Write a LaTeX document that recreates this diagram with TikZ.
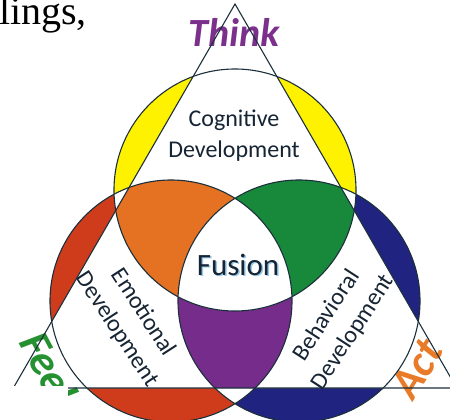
\documentclass[tikz,border=0pt]{standalone}
\usepackage{fontspec}
\setmainfont{Carlito}
\newfontfamily\serif{Liberation Serif}
\definecolor{geel}{RGB}{255,242,0}
\definecolor{rood}{RGB}{206,60,28}
\definecolor{oranje}{RGB}{229,113,35}
\definecolor{groen}{RGB}{24,137,58}
\definecolor{blauw}{RGB}{32,36,128}
\definecolor{paars}{RGB}{117,44,138}
\definecolor{lijn}{RGB}{28,48,60}
\definecolor{tekst}{RGB}{22,36,52}
\definecolor{gloed}{RGB}{150,200,230}
\definecolor{denk}{RGB}{123,48,140}
\definecolor{voel}{RGB}{38,145,48}
\definecolor{doe}{RGB}{232,122,40}
\begin{document}
\begin{tikzpicture}[x=1pt,y=-1pt,
  rand/.style={draw=lijn,line width=1.1pt},
  ontw/.style={text=tekst,align=center,font=\fontsize{24}{31}\selectfont},
  hoek/.style={inner sep=0pt,font=\fontsize{44}{44}\selectfont\bfseries\itshape}]
\useasboundingbox (0,0) rectangle (450,420);
% Driehoek
\coordinate (A) at (235,4);
\coordinate (B) at (13.3,388);
\coordinate (C) at (456.7,388);

% Middelpunten
\coordinate (M1) at (235,190);
\coordinate (M2) at (171,301);
\coordinate (M3) at (299,301);

% Buiten de driehoek
\fill[geel] (M1) circle (121);
\fill[rood] (M2) circle (121);
\fill[blauw] (M3) circle (121);
\begin{scope}
  \clip (M1) circle (121);
  \fill[white] (M2) circle (121);
  \fill[white] (M3) circle (121);
\end{scope}
\begin{scope}
  \clip (M2) circle (121);
  \fill[white] (M3) circle (121);
\end{scope}
\fill[white] (A) -- (B) -- (C) -- cycle;

% Binnen de driehoek
\begin{scope}
  \clip (A) -- (B) -- (C) -- cycle;
  \begin{scope}
    \clip (M2) circle (121);
    \fill[paars] (M3) circle (121);
  \end{scope}
  \clip (M1) circle (121);
  \fill[oranje] (M2) circle (121);
  \fill[groen] (M3) circle (121);
  \clip (M2) circle (121);
  \fill[white] (M3) circle (121);
\end{scope}

% Teksten
\node[ontw,anchor=base] (cog) at (234,157) {Cognitive\\Development};
\node[ontw,rotate=-57] (emo) at (130,321) {Emotional\\Development};
\node[ontw,rotate=57] (beh) at (340,324) {Behavioral\\Development};
\node[text=gloed,font=\fontsize{31}{31}\selectfont,anchor=base] (glow) at (239.5,276.5) {Fusion};
\node[text=tekst,font=\fontsize{31}{31}\selectfont,anchor=base] (fusion) at (238,275) {Fusion};
\node[hoek,text=denk,anchor=base,font=\fontsize{40}{40}\selectfont\bfseries\itshape] (think) at (234,47) {Think};
\node[hoek,text=voel,rotate=-62,anchor=base west] (feel) at (18,342) {Feel};
\node[hoek,text=doe,rotate=58,anchor=base west] (act) at (413,402) {Act};

% Randen
\draw[rand] (M1) circle (121) (M2) circle (121) (M3) circle (121);
\draw[rand] (A) -- (B) -- (C) -- cycle;

% Afdekken
\fill[white] (0,386) rectangle (68,421);
\node[font=\serif\fontsize{40}{40}\selectfont,anchor=base west,inner sep=0pt] (lings) at (-1,25) {lings,};
\end{tikzpicture}
\end{document}
